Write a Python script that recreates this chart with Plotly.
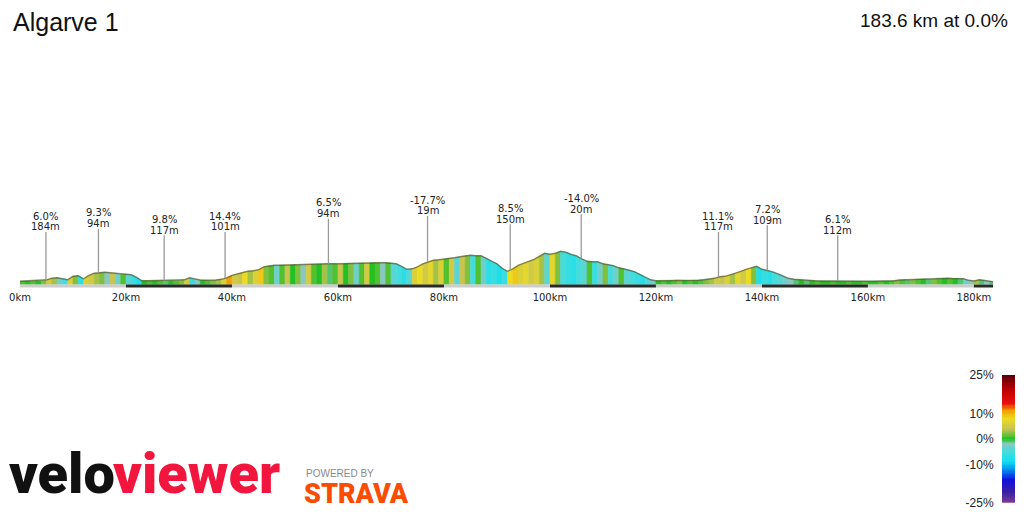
import numpy as np
import plotly.graph_objects as go
from plotly.colors import sample_colorscale

title = "Algarve 1"
summary = "183.6 km at 0.0%"

# distance (km) and elevation (m)
km = list(range(184)) + [183.6]
elevation = [
    24, 26, 26, 28, 28, 36, 48, 52, 44, 36,
    64, 68, 44, 72, 88, 92, 96, 92, 88, 80,
    80, 76, 56, 28, 28, 29, 29, 30, 29, 29,
    30, 36, 52, 40, 34, 32, 32, 34, 40, 52,
    72, 84, 96, 104, 108, 116, 140, 148, 152, 152,
    154, 154, 156, 156, 158, 160, 160, 162, 164, 164,
    162, 164, 166, 168, 168, 170, 170, 172, 172, 173,
    170, 164, 144, 120, 124, 140, 164, 180, 192, 196,
    200, 208, 212, 220, 228, 232, 228, 228, 208, 184,
    164, 128, 104, 124, 152, 168, 184, 200, 224, 248,
    240, 248, 264, 256, 240, 228, 204, 184, 180, 180,
    164, 156, 148, 132, 124, 112, 100, 80, 56, 36,
    28, 28, 29, 30, 34, 32, 30, 32, 32, 36,
    40, 48, 60, 64, 76, 88, 104, 120, 132, 144,
    120, 112, 100, 84, 68, 48, 40, 36, 32, 30,
    28, 27, 26, 26, 26, 25, 24, 24, 24, 24,
    24, 24, 25, 26, 26, 29, 34, 36, 34, 38,
    40, 42, 40, 44, 46, 48, 46, 48, 44, 32,
    26, 36, 32, 24, 20,
]

# gradient (%) of each 1 km segment
grade = [
    1, 0, 1, 0, 2, 5, 3, -3, -5, 6,
    2, -7, 6, 5, 3, 2, -2, 4, -3, 1,
    -4, -6, -8, 0, 1, 0, 1, -1, 0, 1,
    2, 5, -6, -2, 0, 1, 2, 3, 6, 11,
    5, 4, 8, 3, 6, 9, 2, 1, -3, 1,
    4, 0, 2, -2, 5, 1, 0, 3, -1, 1,
    4, 0, 2, -3, 1, 5, 0, 1, -2, 1,
    -4, -5, -7, -4, 6, 8, 5, 7, 3, 6,
    1, 5, -4, 4, 2, -5, 1, -3, -7, -6,
    -8, -6, 8, 9, 6, 7, 5, 6, 3, -4,
    7, 2, -5, -6, -7, -5, -4, 1, -6, -3,
    2, -5, -3, 1, -4, -5, -6, -7, -5, -3,
    0, 1, 0, 1, 2, 0, 1, 0, 1, 2,
    3, 5, 4, 6, 3, 7, 5, 8, 2, -8,
    -6, -7, -5, -4, -3, -2, -1, 0, -1, 0,
    1, 0, 0, 1, 0, 0, 1, 0, 0, 1,
    0, 0, 1, 0, 1, 2, 1, -1, 2, 1,
    0, -1, 2, 1, 0, 1, 0, -1, -3, -2,
    3, -1, -2, -1,
]

# climb / descent call-outs
label_km = [4.9, 14.8, 27.2, 38.7, 58.2, 76.9, 92.5, 105.9, 131.8, 141.0, 154.3]
label_grade = ["6.0%", "9.3%", "9.8%", "14.4%", "6.5%", "-17.7%", "8.5%", "-14.0%", "11.1%", "7.2%", "6.1%"]
label_length = ["184m", "94m", "117m", "101m", "94m", "19m", "150m", "20m", "117m", "109m", "112m"]
label_px = [216, 212.7, 219.3, 216, 202.7, 200, 208.3, 198.3, 216, 209.3, 219.3]  # layout only

tick_km = [0, 20, 40, 60, 80, 100, 120, 140, 160, 180]
tick_text = [f"{k}km" for k in tick_km]
scale_ticks = [25, 10, 0, -10, -25]

colorscale = [
    [0.0, "#7d3c98"], [0.08, "#3a1fa0"], [0.18, "#1010e0"], [0.26, "#0090f0"],
    [0.32, "#10e0f0"], [0.40, "#44dcdc"], [0.46, "#88c8c0"], [0.50, "#22c022"],
    [0.54, "#80c040"], [0.58, "#c8c450"], [0.66, "#ecdc20"], [0.72, "#f0a000"],
    [0.78, "#e81010"], [0.88, "#c00000"], [1.0, "#5a0008"],
]

BASE_PX = 284.3  # screen row of 0 m
M_PER_PX = 8.0
OFF = 8  # page body margin


def py(px):
    return (BASE_PX - px) * M_PER_PX


def fx(px):  # screen x -> paper
    return (px - OFF) / 1024


def fy(px):  # screen y -> paper
    return 1 - (px - OFF) / 512


fig = go.Figure()

seg_colors = sample_colorscale(colorscale, [(g + 25) / 50 for g in grade])
for i, c in enumerate(seg_colors):
    x0, x1 = km[i], km[i + 1]
    fig.add_trace(go.Scatter(
        x=[x0, x0, x1, x1, x0], y=[0, elevation[i], elevation[i + 1], 0, 0],
        fill="toself", fillcolor=c, mode="lines", line=dict(width=0.6, color=c),
        hoverinfo="skip", showlegend=False))

fig.add_trace(go.Scatter(x=km, y=elevation, mode="lines",
                         line=dict(color="rgba(70,70,30,0.6)", width=1.4),
                         hovertemplate="%{x} km: %{y} m<extra></extra>", showlegend=False))

# distance band under the profile
edges = tick_km + [km[-1]]
for i in range(len(edges) - 1):
    fig.add_shape(type="rect", xref="x", yref="y", x0=edges[i], x1=edges[i + 1],
                  y0=py(287.5), y1=py(284.6), line_width=0,
                  fillcolor="#cccccc" if i % 2 == 0 else "#2a2a2a")

# call-outs
lab_font = dict(family="DejaVu Sans", size=10, color="#222")
for k, g, l, p in zip(label_km, label_grade, label_length, label_px):
    top = np.interp(k, km, elevation)
    fig.add_shape(type="line", xref="x", yref="y", x0=k, x1=k, y0=top, y1=py(p + 16),
                  line=dict(color="#9a9a9a", width=1.3))
    fig.add_annotation(x=k, y=py(p), text=g, showarrow=False, font=lab_font, yanchor="middle")
    fig.add_annotation(x=k, y=py(p + 10.7), text=l, showarrow=False, font=lab_font, yanchor="middle")

# gradient legend
ramp = np.linspace(-25, 25, 101)
fig.add_trace(go.Heatmap(z=[[v] for v in ramp], y=ramp, x=[0], colorscale=colorscale,
                         zmin=-25, zmax=25, showscale=False, hoverinfo="skip",
                         xaxis="x2", yaxis="y2"))

fig.update_layout(
    template="none",
    width=1024, height=512,
    margin=dict(l=0, r=0, t=0, b=0, pad=0, autoexpand=False),
    plot_bgcolor="white", paper_bgcolor="white",
    showlegend=False,
    xaxis=dict(domain=[fx(20), fx(993)], range=[0, km[-1]], showgrid=False, zeroline=False,
               showline=False, tickvals=tick_km, ticktext=tick_text, ticks="", automargin=False,
               tickfont=dict(family="DejaVu Sans", size=10, color="#222")),
    yaxis=dict(domain=[fy(290), fy(190)], range=[py(290), py(190)],
               visible=False, automargin=False),
    xaxis2=dict(domain=[fx(1002), fx(1015)], anchor="y2", visible=False, automargin=False),
    yaxis2=dict(domain=[fy(502.7), fy(375)], anchor="x2", range=[-25, 25],
                tickvals=scale_ticks, ticktext=[f"{t}%" for t in scale_ticks],
                showgrid=False, zeroline=False, ticks="outside", ticklen=5, automargin=False,
                tickcolor="rgba(0,0,0,0)", showline=False,
                tickfont=dict(family="Liberation Sans", size=12, color="#222")),
)

fig.add_annotation(xref="paper", yref="paper", x=fx(11), y=fy(22), text=title,
                   showarrow=False, xanchor="left", yanchor="middle",
                   font=dict(family="Liberation Sans", size=25, color="#111"))
fig.add_annotation(xref="paper", yref="paper", x=fx(1010), y=fy(20), text=summary,
                   showarrow=False, xanchor="right", yanchor="middle",
                   font=dict(family="Liberation Sans", size=19, color="#111"))

# footer logos
logo_font = dict(family="Roboto", size=56, weight=900)
fig.add_annotation(xref="paper", yref="paper", x=fx(8), y=fy(508), text="velo",
                   showarrow=False, xanchor="left", yanchor="bottom", borderpad=0,
                   font=dict(logo_font, color="#111"))
fig.add_annotation(xref="paper", yref="paper", x=fx(112), y=fy(508), text="viewer",
                   showarrow=False, xanchor="left", yanchor="bottom", borderpad=0,
                   font=dict(logo_font, color="#f2163e"))
fig.add_annotation(xref="paper", yref="paper", x=fx(304), y=fy(473), text="POWERED BY",
                   showarrow=False, xanchor="left", yanchor="middle",
                   font=dict(family="Liberation Sans", size=10, color="#8a8a8a"))
fig.add_annotation(xref="paper", yref="paper", x=fx(302), y=fy(494), text="STRAVA",
                   showarrow=False, xanchor="left", yanchor="middle",
                   font=dict(family="Roboto", size=27, color="#fc4c02", weight=900))

fig.write_html("out.html")
